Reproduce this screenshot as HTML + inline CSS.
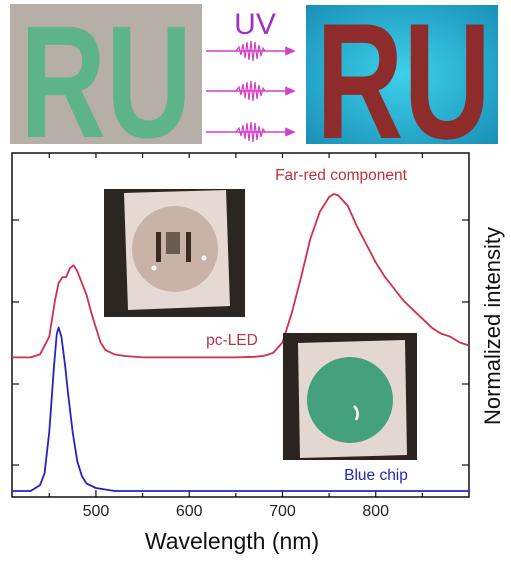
<!DOCTYPE html>
<html><head><meta charset="utf-8">
<style>
body{margin:0;width:511px;height:562px;background:#fff;overflow:hidden;font-family:"Liberation Sans",sans-serif;}
svg{position:absolute;left:0;top:0}
</style></head>
<body>
<svg width="511" height="562" viewBox="0 0 511 562">
 <defs>
  <radialGradient id="cy" cx="50%" cy="50%" r="70%"><stop offset="0" stop-color="#3ed0ea"/><stop offset="1" stop-color="#1a90b8"/></radialGradient>
  <clipPath id="c1"><rect x="10" y="4" width="192" height="140"/></clipPath>
  <clipPath id="c2"><rect x="306" y="5" width="192" height="139"/></clipPath>
 </defs>
 <g clip-path="url(#c1)">
  <rect x="10" y="4" width="192" height="140" fill="#b5afa8"/>
  <text x="20" y="137" font-size="160" font-weight="bold" fill="#5cb488" textLength="172" lengthAdjust="spacingAndGlyphs">RU</text>
 </g>
 <text x="255" y="34" text-anchor="middle" font-size="30" fill="#a030c8">UV</text>
 <g stroke="#d040c8" stroke-width="1.5" fill="#d040c8">
  <g id="arw"><line x1="206" y1="51" x2="290" y2="51"/><polygon points="294,51 286,47.5 286,54.5"/>
   <path d="M236,51 L239,47 L241,55 L243,44 L245,58 L247,42 L249,60 L251,41 L253,61 L255,42 L257,59 L259,45 L261,56 L263,48 L265,51" fill="none" stroke-width="1.2"/></g>
  <use href="#arw" y="40"/>
  <use href="#arw" y="81"/>
 </g>
 <g clip-path="url(#c2)">
  <rect x="306" y="5" width="192" height="139" fill="url(#cy)"/>
  <text x="316" y="138" font-size="165" font-weight="bold" fill="#8e2c2c" textLength="175" lengthAdjust="spacingAndGlyphs">RU</text>
 </g>

 <rect x="12" y="153" width="457" height="344" fill="none" stroke="#111" stroke-width="1.5"/>
 <g id="ticks" stroke="#111" stroke-width="1.2"></g>
 <g id="xlabels" font-size="16" fill="#222" text-anchor="middle"></g>

 <g id="series"></g>

 <g>
  <rect x="104" y="189" width="141" height="128" fill="#2c2622"/>
  <polygon points="124,193 226,190 230,306 128,310" fill="#e6d8d2"/>
  <circle cx="175" cy="249" r="43" fill="#c9b2a8"/>
  <rect x="166" y="232" width="14" height="22" fill="#6a5a50"/>
  <rect x="156" y="232" width="5" height="30" fill="#3a2a22"/>
  <rect x="186" y="232" width="5" height="30" fill="#3a2a22"/>
  <circle cx="154" cy="268" r="2.5" fill="#fff"/><circle cx="204" cy="258" r="2.5" fill="#fff"/>
 </g>
 <g>
  <rect x="283" y="333" width="134" height="127" fill="#2c2420"/>
  <polygon points="298,343 405,340 407,455 300,458" fill="#e4d6d0"/>
  <circle cx="350" cy="400" r="43" fill="#45a07e"/>
  <path d="M354,406 q6,6 2,14" stroke="#fff" stroke-width="2.5" fill="none"/>
 </g>

 <text x="341" y="180" text-anchor="middle" font-size="15.5" fill="#c0303a">Far-red component</text>
 <text x="232" y="345" text-anchor="middle" font-size="15.5" fill="#c0304a">pc-LED</text>
 <text x="376" y="480" text-anchor="middle" font-size="15.5" fill="#2525c0">Blue chip</text>
 <text x="232" y="549" text-anchor="middle" font-size="23" fill="#111">Wavelength (nm)</text>
 <text transform="translate(500,326) rotate(-90)" text-anchor="middle" font-size="22" fill="#111">Normalized intensity</text>
</svg>
<script>
const xTicks=[500,600,700,800];
const xMinor=[450,550,650,750,850];
const redWl=[410,430,440,450,456,460,464,468,472,476,480,485,490,495,500,505,510,520,530,550,600,650,670,680,690,700,710,720,730,740,750,755,760,770,780,790,800,810,820,830,840,850,860,870,880,890,900];
const redVal=[0.45,0.45,0.46,0.52,0.64,0.70,0.72,0.72,0.75,0.76,0.74,0.70,0.66,0.60,0.55,0.50,0.475,0.46,0.455,0.45,0.45,0.45,0.452,0.455,0.465,0.50,0.60,0.72,0.85,0.94,0.99,1.0,0.995,0.96,0.89,0.83,0.77,0.72,0.68,0.64,0.61,0.58,0.55,0.53,0.52,0.50,0.49];
const blueWl=[410,430,440,445,450,455,458,460,463,467,470,475,480,485,490,500,520,600,700,800,900];
const blueVal=[0,0,0.02,0.06,0.2,0.42,0.53,0.55,0.52,0.42,0.33,0.2,0.1,0.05,0.025,0.01,0,0,0,0,0];
const X=w=>12+(w-410)*457/490;
const Y=v=>491-v*297;
const NS='http://www.w3.org/2000/svg';
const ticks=document.getElementById('ticks');
function ln(x1,y1,x2,y2){const l=document.createElementNS(NS,'line');l.setAttribute('x1',x1);l.setAttribute('y1',y1);l.setAttribute('x2',x2);l.setAttribute('y2',y2);ticks.appendChild(l);return l;}
xTicks.forEach(t=>{const l=ln(X(t),497,X(t),490);


const tx=document.createElementNS(NS,'text');tx.setAttribute('x',X(t));tx.setAttribute('y',516);tx.textContent=t;


document.getElementById('xlabels').appendChild(tx);});
xMinor.forEach(t=>{const l=ln(X(t),497,X(t),493);

});
[220,302,384,465].forEach(y=>{ln(12,y,19,y);ln(469,y,462,y);});
[X(450),X(550),X(650),X(750),X(850),X(500),X(600),X(700),X(800)].forEach(x=>{ln(x,153,x,158);});
function path(wl,val,col,name){const p=document.createElementNS(NS,'path');
p.setAttribute('d',wl.map((w,i)=>(i?'L':'M')+X(w).toFixed(1)+','+Y(val[i]).toFixed(1)).join(' '));
p.setAttribute('fill','none');p.setAttribute('stroke',col);p.setAttribute('stroke-width','1.8');p.setAttribute('stroke-linejoin','round');


document.getElementById('series').appendChild(p);}
path(redWl,redVal,'#d0304a','pc-led-spectrum');
path(blueWl,blueVal,'#2222c8','blue-chip-spectrum');
</script>
</body></html>
